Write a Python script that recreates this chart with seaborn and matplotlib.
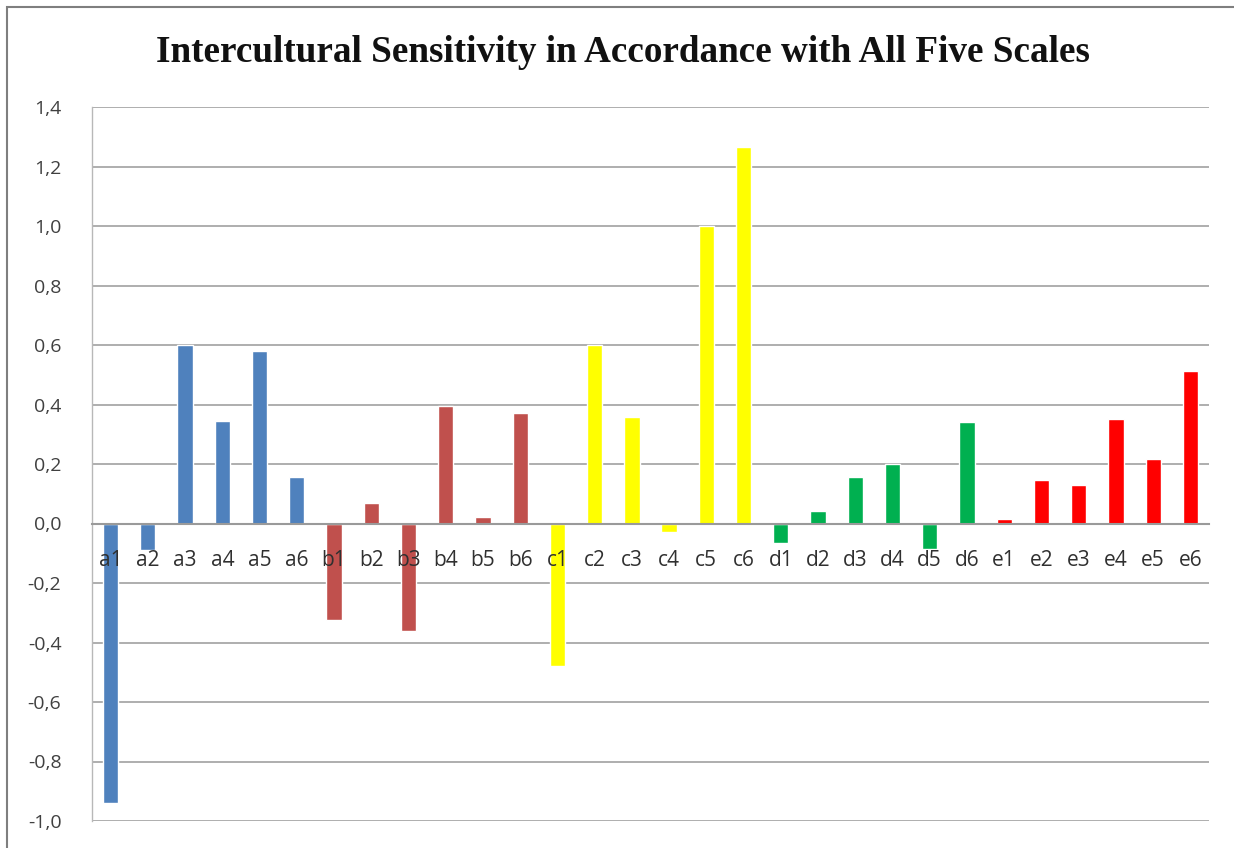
import matplotlib
matplotlib.use("Agg")
import matplotlib.pyplot as plt
import seaborn as sns
import pandas as pd
from matplotlib.patches import Rectangle

categories = ["a1", "a2", "a3", "a4", "a5", "a6",
              "b1", "b2", "b3", "b4", "b5", "b6",
              "c1", "c2", "c3", "c4", "c5", "c6",
              "d1", "d2", "d3", "d4", "d5", "d6",
              "e1", "e2", "e3", "e4", "e5", "e6"]
values_a = [-0.94, -0.09, 0.60, 0.345, 0.58, 0.157]
values_b = [-0.325, 0.069, -0.362, 0.394, 0.022, 0.373]
values_c = [-0.478, 0.60, 0.358, -0.03, 1.0, 1.266]
values_d = [-0.067, 0.041, 0.157, 0.201, -0.087, 0.34]
values_e = [0.016, 0.145, 0.13, 0.352, 0.218, 0.512]
groups = ["a", "b", "c", "d", "e"]
colors = ["#4F81BD", "#C0504D", "#FFFF00", "#00B050", "#FF0000"]
yticks = [-1.0, -0.8, -0.6, -0.4, -0.2, 0.0, 0.2, 0.4, 0.6, 0.8, 1.0, 1.2, 1.4]
title = "Intercultural Sensitivity in Accordance with All Five Scales"

values = values_a + values_b + values_c + values_d + values_e
group_col = [c[0] for c in categories]
df = pd.DataFrame({"cat": categories, "val": values, "grp": group_col})

sns.set_theme(style="white")
plt.rcParams["font.family"] = ["Open Sans", "DejaVu Sans"]

fig = plt.figure(figsize=(12.34, 8.48), dpi=100)
fig.patch.set_facecolor("white")
W, H = 1234, 848
ax = fig.add_axes([92 / W, 1 - 821 / H, (1209 - 92) / W, (821 - 107) / H])

sns.barplot(data=df, x="cat", y="val", hue="grp", hue_order=groups,
            palette=dict(zip(groups, colors)), dodge=False, width=0.41,
            order=categories, legend=False, ax=ax, saturation=1)

ax.set_ylim(-1.0, 1.4)
ax.set_xlim(-0.5, len(categories) - 0.5)
ax.set_yticks(yticks)
ax.set_yticklabels([f"{t:.1f}".replace(".", ",") for t in yticks],
                   fontsize=14, color="#404040")
ax.set_xlabel("")
ax.set_ylabel("")
ax.yaxis.grid(True, color="#A8A8A8", linewidth=1.3)
ax.set_axisbelow(True)
ax.xaxis.set_zorder(5)

for s in ["top", "right"]:
    ax.spines[s].set_visible(False)
ax.spines["left"].set_color("#B8B8B8")
ax.spines["left"].set_linewidth(1.0)
ax.spines["bottom"].set_position(("data", 0))
ax.spines["bottom"].set_color("#9A9A9A")
ax.spines["bottom"].set_linewidth(1.5)
ax.spines["bottom"].set_zorder(3)

ax.tick_params(axis="y", length=0, pad=22)
ax.tick_params(axis="x", length=0, pad=19, labelsize=15, labelcolor="#303030")

fig.text(623 / W, 1 - 53 / H, title, ha="center", va="center",
         fontsize=26.7, fontweight="bold", family="Liberation Serif", color="#111111")

fig.patches.append(Rectangle((7 / W, -0.1), 1.2, (1 - 7 / H) + 0.1,
                             transform=fig.transFigure, fill=False,
                             edgecolor="#7F7F7F", linewidth=1.5))

fig.savefig("out.png", dpi=100, facecolor="white")
